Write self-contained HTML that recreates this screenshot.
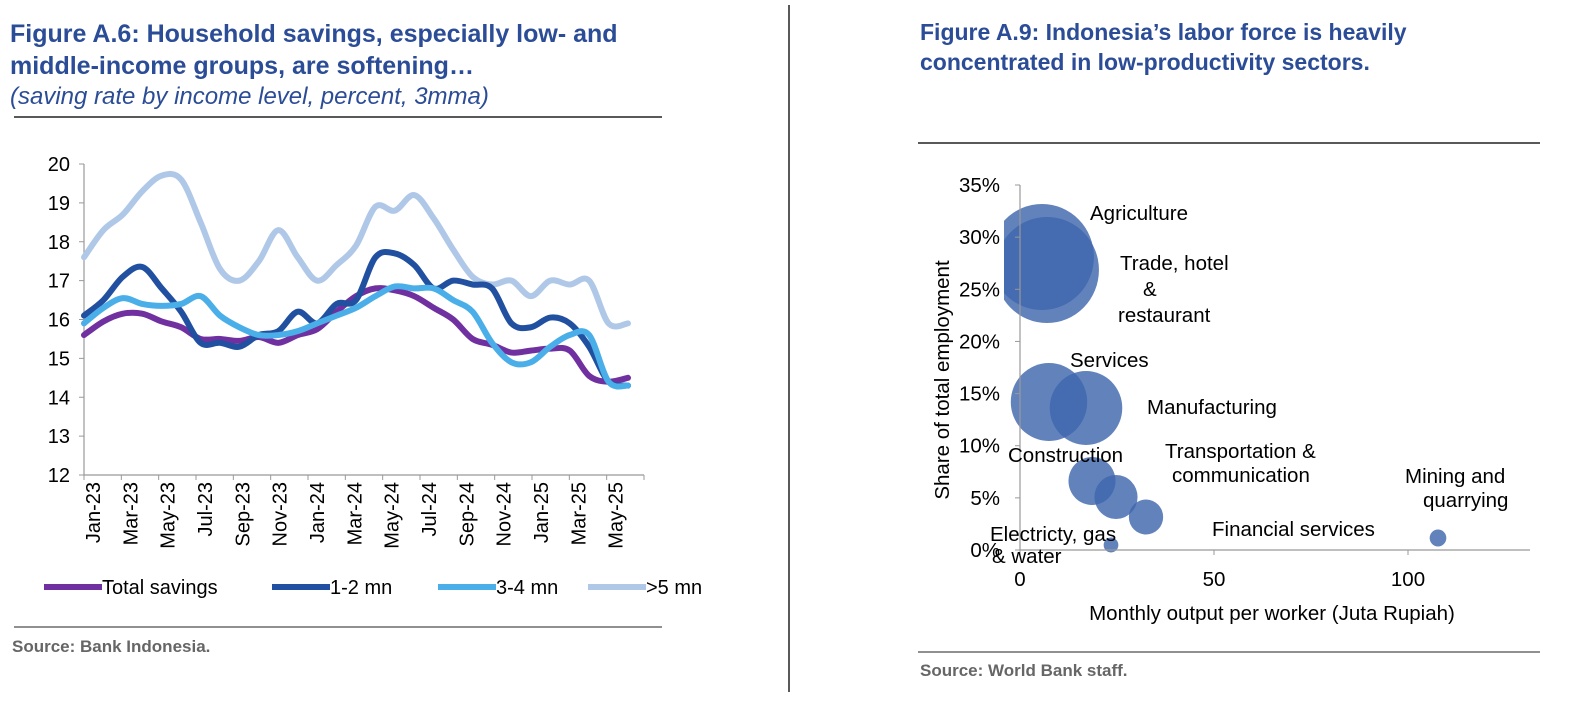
<!DOCTYPE html>
<html><head><meta charset="utf-8"><style>
body{margin:0;background:#fff;width:1586px;height:702px;overflow:hidden}
svg{display:block}
.t{font-family:"Liberation Sans",sans-serif;font-weight:bold;fill:#2b4c96;font-size:23px}
.t1{font-size:25px}
.s{font-family:"Liberation Sans",sans-serif;font-style:italic;fill:#2b4c96;font-size:24px}
.a{font-family:"Liberation Sans",sans-serif;font-size:20px;fill:#000}
.b{font-family:"Liberation Sans",sans-serif;font-size:20.5px;fill:#000}
.src{font-family:"Liberation Sans",sans-serif;font-weight:bold;font-size:17px;fill:#666}
</style></head><body>
<svg id="c" width="1586" height="702" xmlns="http://www.w3.org/2000/svg">
<text class="t t1" x="10" y="42">Figure A.6: Household savings, especially low- and</text>
<text class="t t1" x="10" y="74">middle-income groups, are softening…</text>
<text class="s" x="10" y="104">(saving rate by income level, percent, 3mma)</text>
<line x1="14" y1="117" x2="662" y2="117" stroke="#222" stroke-width="1.5"/>
<line x1="14" y1="627" x2="662" y2="627" stroke="#222" stroke-width="1"/>
<text class="src" x="12" y="652">Source:  Bank Indonesia.</text>
<line x1="789" y1="5" x2="789" y2="692" stroke="#222" stroke-width="1.5"/>
<text class="t" x="920" y="40">Figure A.9: Indonesia’s labor force is heavily</text>
<text class="t" x="920" y="70">concentrated in low-productivity sectors.</text>
<line x1="918" y1="143" x2="1540" y2="143" stroke="#222" stroke-width="1.5"/>
<line x1="918" y1="652" x2="1540" y2="652" stroke="#222" stroke-width="1"/>
<text class="src" x="920" y="676">Source: World Bank staff.</text>
<g id="left"></g>
<g id="right"></g>
</svg>
<script>
var NS="http://www.w3.org/2000/svg";
function el(p,n,a,t){var e=document.createElementNS(NS,n);for(var k in a)e.setAttribute(k,a[k]);if(t!==undefined)e.textContent=t;p.appendChild(e);return e;}
var L=document.getElementById('left');
var x0=84,xN=628,yT=164,yB=475;
function Y(v){return yB-(v-12)*(yB-yT)/8;}
el(L,'line',{x1:x0,y1:yT,x2:x0,y2:yB,stroke:'#999','stroke-width':1.2});
el(L,'line',{x1:x0,y1:yB,x2:644,y2:yB,stroke:'#999','stroke-width':1.2});
for(var v=12;v<=20;v++){el(L,'line',{x1:x0-5,y1:Y(v),x2:x0,y2:Y(v),stroke:'#999'});el(L,'text',{class:'a',x:x0-14,y:Y(v)+7,'text-anchor':'end'},v);}
var labs=["Jan-23","Mar-23","May-23","Jul-23","Sep-23","Nov-23","Jan-24","Mar-24","May-24","Jul-24","Sep-24","Nov-24","Jan-25","Mar-25","May-25"];
var tstep=(644-x0)/15;
for(var i=0;i<=15;i++)el(L,'line',{x1:x0+i*tstep,y1:yB,x2:x0+i*tstep,y2:yB+5,stroke:'#999'});
for(var i=0;i<15;i++){var lx=x0+i*tstep+16;el(L,'text',{class:'a',x:lx,y:482,'text-anchor':'end',transform:'rotate(-90 '+lx+' 482)'},labs[i]);}
var ser=[
['#b0c8e8',[17.6,18.3,18.7,19.3,19.7,19.6,18.5,17.3,17.0,17.5,18.3,17.6,17.0,17.4,17.9,18.9,18.8,19.2,18.6,17.8,17.1,16.9,17.0,16.6,17.0,16.9,17.0,15.9,15.9]],
['#7030a0',[15.6,15.95,16.15,16.15,15.95,15.8,15.5,15.5,15.45,15.55,15.4,15.6,15.75,16.2,16.6,16.8,16.75,16.6,16.3,16.0,15.5,15.35,15.15,15.2,15.25,15.2,14.55,14.4,14.5]],
['#2150a0',[16.1,16.5,17.1,17.35,16.8,16.2,15.4,15.4,15.3,15.6,15.7,16.2,15.9,16.4,16.5,17.6,17.7,17.4,16.8,17.0,16.9,16.8,15.9,15.8,16.05,15.9,15.3,14.4,14.3]],
['#4aaee8',[15.9,16.3,16.55,16.4,16.35,16.4,16.6,16.1,15.8,15.6,15.6,15.7,15.9,16.1,16.3,16.6,16.85,16.8,16.8,16.5,16.2,15.4,14.9,14.9,15.3,15.6,15.6,14.4,14.3]]];
ser.forEach(function(s){var d=s[1],n=d.length,st=(xN-x0)/(n-1),P=d.map(function(v,i){return [x0+i*st,Y(v)];});
var p='M'+P[0][0]+','+P[0][1];for(var i=0;i<n-1;i++){var a=P[Math.max(0,i-1)],b=P[i],c=P[i+1],e=P[Math.min(n-1,i+2)];
p+='C'+(b[0]+(c[0]-a[0])/6)+','+(b[1]+(c[1]-a[1])/6)+' '+(c[0]-(e[0]-b[0])/6)+','+(c[1]-(e[1]-b[1])/6)+' '+c[0]+','+c[1];}
el(L,'path',{d:p,fill:'none',stroke:s[0],'stroke-width':6,'stroke-linejoin':'round','stroke-linecap':'round'});});
var lg=[['#7030a0','Total savings',44],['#2150a0','1-2 mn',272],['#4aaee8','3-4 mn',438],['#b0c8e8','>5 mn',588]];
lg.forEach(function(g){el(L,'line',{x1:g[2],y1:587,x2:g[2]+58,y2:587,stroke:g[0],'stroke-width':6});el(L,'text',{class:'a',x:g[2]+58,y:594},g[1]);});
// right
var R=document.getElementById('right');
var rx0=1020,ry0=550,ry35=185;
function RY(p){return ry0-(p)*(ry0-ry35)/35;}
function RX(v){return rx0+v*3.88;}
var defs=el(R,'defs',{});var cp=el(defs,'clipPath',{id:'cl'});el(cp,'rect',{x:1004,y:150,width:560,height:420});
var g=el(R,'g',{'clip-path':'url(#cl)'});
[[1042,257,53],[1047,270,53],[1049,402,39],[1086,408,37],[1092,481,24],[1116,497,22],[1146,517,17.5],[1111,545,7.5],[1438,538,8.5]].forEach(function(b){
el(g,'ellipse',{cx:b[0],cy:b[1],rx:b[2]*0.98,ry:b[2],fill:'#3f66ad','fill-opacity':0.82});});
el(R,'line',{x1:rx0,y1:ry35,x2:rx0,y2:ry0,stroke:'#999','stroke-width':1.2});
el(R,'line',{x1:rx0,y1:ry0,x2:1530,y2:ry0,stroke:'#999','stroke-width':1.2});
for(var p=0;p<=35;p+=5){el(R,'line',{x1:rx0-5,y1:RY(p),x2:rx0,y2:RY(p),stroke:'#999'});el(R,'text',{class:'b',x:rx0-20,y:RY(p)+7,'text-anchor':'end'},p+'%');}
[0,50,100].forEach(function(v){el(R,'line',{x1:RX(v),y1:ry0,x2:RX(v),y2:ry0+5,stroke:'#999'});el(R,'text',{class:'b',x:RX(v),y:586,'text-anchor':'middle'},v);});
el(R,'text',{class:'b',x:1272,y:620,'text-anchor':'middle'},'Monthly output per worker (Juta Rupiah)');
el(R,'text',{class:'b',x:949,y:380,'text-anchor':'middle',transform:'rotate(-90 949 380)'},'Share of total employment');
[['Agriculture',1090,220],['Trade, hotel',1120,270],['&',1143,296],['restaurant',1118,322],['Services',1070,367],['Manufacturing',1147,414],['Transportation &',1165,458],['communication',1172,482],['Construction',1008,462],['Mining and',1405,483],['quarrying',1423,507],['Financial services',1212,536],['Electricty, gas',990,541],['& water',992,563]].forEach(function(t){el(R,'text',{class:'b',x:t[1],y:t[2]},t[0]);});
</script>
</body></html>
